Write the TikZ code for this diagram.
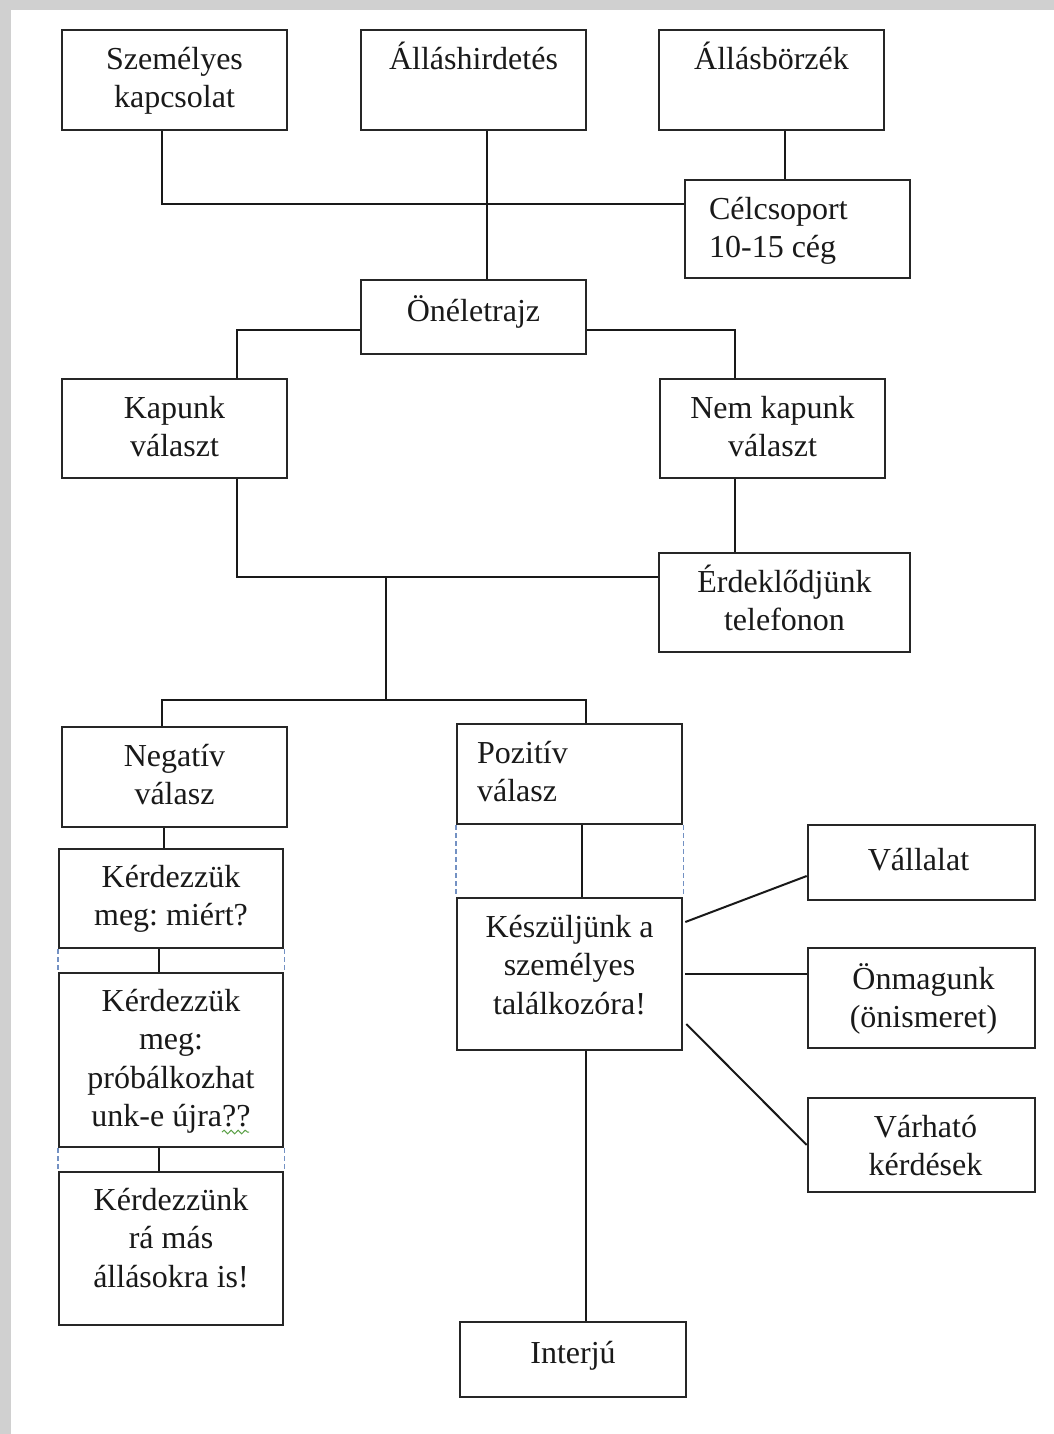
\documentclass[tikz,border=0pt]{standalone}
\usepackage{fontspec}
\setmainfont{Liberation Serif}
\usetikzlibrary{fit,calc,decorations.pathmorphing}
\definecolor{dashblue}{RGB}{115,145,195}
\definecolor{framegray}{RGB}{208,208,208}
\definecolor{squig}{RGB}{90,160,70}
\newcommand\fl{\rule{0pt}{16pt}}
\frenchspacing
\begin{document}
\begin{tikzpicture}[x=0.5pt,y=-0.5pt,
  box/.style={draw=black!85, line width=1.3pt, inner sep=0pt, fill=white},
  txt/.style={inner sep=0pt, align=center, anchor=north, font=\fontsize{16}{19.3}\selectfont, text=black!90},
  ltxt/.style={txt, align=left, anchor=north west},
  conn/.style={draw=black!90, line width=1pt},
  dsh/.style={draw=dashblue, line width=0.8pt, dash pattern=on 2.5pt off 1.5pt}]
\useasboundingbox (0,0) rectangle (1054,1434);
% page background
\fill[framegray] (0,0) rectangle (1054,1434);
\fill[white] (11,10) rectangle (1054,1434);

% boxes
\node[box, fit={(62,30) (287,130)}] (szem) {};
\node[box, fit={(361,30) (586,130)}] (hird) {};
\node[box, fit={(659,30) (884,130)}] (borze) {};
\node[box, fit={(685,180) (910,278)}] (cel) {};
\node[box, fit={(361,280) (586,354)}] (onel) {};
\node[box, fit={(62,379) (287,478)}] (kap) {};
\node[box, fit={(660,379) (885,478)}] (nem) {};
\node[box, fit={(659,553) (910,652)}] (erd) {};
\node[box, fit={(62,727) (287,827)}] (neg) {};
\node[box, fit={(457,724) (682,824)}] (poz) {};
\node[box, fit={(59,849) (283,948)}] (kerda) {};
\node[box, fit={(59,973) (283,1147)}] (kerdb) {};
\node[box, fit={(59,1172) (283,1325)}] (kerdc) {};
\node[box, fit={(457,898) (682,1050)}] (kesz) {};
\node[box, fit={(808,825) (1035,900)}] (vall) {};
\node[box, fit={(808,948) (1035,1048)}] (onm) {};
\node[box, fit={(808,1098) (1035,1192)}] (varh) {};
\node[box, fit={(460,1322) (686,1397)}] (intj) {};

% texts
\node[txt] (tszem) at ([yshift=-4pt]szem.north) {\fl Személyes\\kapcsolat};
\node[txt] (third) at ([yshift=-4pt]hird.north) {\fl Álláshirdetés};
\node[txt] (tborze) at ([yshift=-4pt]borze.north) {\fl Állásbörzék};
\node[ltxt] (tcel) at ([xshift=12.5pt,yshift=-4pt]cel.north west) {\fl Célcsoport\\10-15 cég};
\node[txt] (tonel) at ([yshift=-5pt]onel.north) {\fl Önéletrajz};
\node[txt] (tkap) at ([yshift=-4pt]kap.north) {\fl Kapunk\\választ};
\node[txt] (tnem) at ([yshift=-4pt]nem.north) {\fl Nem kapunk\\választ};
\node[txt] (terd) at ([yshift=-4pt]erd.north) {\fl Érdeklődjünk\\telefonon};
\node[txt] (tneg) at ([yshift=-4pt]neg.north) {\fl Negatív\\válasz};
\node[ltxt] (tpoz) at ([xshift=10.5pt,yshift=-4pt]poz.north west) {\fl Pozitív\\válasz};
\node[txt] (tkerda) at ([yshift=-3.5pt]kerda.north) {\fl Kérdezzük\\meg: miért?};
\node[txt] (tkerdb) at ([yshift=-3.5pt]kerdb.north) {\fl Kérdezzük\\meg:\\próbálkozhat\\unk-e újra??};
\node[txt] (tkerdc) at ([yshift=-3.5pt]kerdc.north) {\fl Kérdezzünk\\rá más\\állásokra is!};
\node[txt] (tkesz) at ([yshift=-4pt]kesz.north) {\fl Készüljünk a\\személyes\\találkozóra!};
\node[txt] (tvall) at ([xshift=-1.5pt,yshift=-7pt]vall.north) {\fl Vállalat};
\node[txt] (tonm) at ([xshift=1pt,yshift=-5pt]onm.north) {\fl Önmagunk\\(önismeret)};
\node[txt] (tvarh) at ([xshift=2pt,yshift=-4pt]varh.north) {\fl Várható\\kérdések};
\node[txt] (tintj) at ([yshift=-5pt]intj.north) {\fl Interjú};

% spell-check squiggle
\draw[squig, line width=0.5pt, decorate, decoration={snake, amplitude=0.9pt, segment length=3.5pt}] (222,1132) -- (249,1132);

% connectors
\draw[conn] ([xshift=-6.25pt]szem.south) |- ([yshift=-12.5pt]cel.north west);
\draw[conn] ([xshift=6.5pt]hird.south) -- ([xshift=6.5pt]hird.south |- onel.north);
\draw[conn] ([xshift=6.75pt]borze.south) -- ([xshift=6.75pt]borze.south |- cel.north);
\draw[conn] ([yshift=-6.5pt]onel.west) -| ([xshift=31.25pt]kap.north);
\draw[conn] ([yshift=-6.5pt]onel.east) -| ([xshift=-18.75pt]nem.north);
\draw[conn] ([xshift=31.25pt]kap.south) |- ([yshift=12.75pt]erd.west);
\draw[conn] ([xshift=-18.75pt]nem.south) -- ([xshift=-18.75pt]nem.south |- erd.north);
\coordinate (j1) at (386,577);
\coordinate (j2) at (386,700);
\draw[conn] (j1) -- (j2);
\draw[conn] ([xshift=-6.25pt]neg.north) |- (j2) -| ([xshift=8.25pt]poz.north);
\draw[conn] ([xshift=-5.5pt]neg.south) -- ([xshift=-5.5pt]neg.south |- kerda.north);
\draw[conn] ([xshift=-6pt]kerda.south) -- ([xshift=-6pt]kerdb.north);
\draw[conn] ([xshift=-6pt]kerdb.south) -- ([xshift=-6pt]kerdc.north);
\draw[conn] ([xshift=6.25pt]poz.south) -- ([xshift=6.25pt]kesz.north);
\draw[conn] ([xshift=1pt,yshift=26pt]kesz.east) -- ([yshift=-6.75pt]vall.west);
\draw[conn] ([xshift=1pt]kesz.east) -- (kesz.east -| onm.west);
\draw[conn] ([xshift=1.5pt,yshift=-25pt]kesz.east) -- (varh.west);
\draw[conn] ([xshift=8.25pt]kesz.south) -- ([xshift=8.25pt]kesz.south |- intj.north);

% dashed guides
\draw[dsh] (kerda.south west) -- (kerdb.north west);
\draw[dsh] (kerda.south east) -- (kerdb.north east);
\draw[dsh] (kerdb.south west) -- (kerdc.north west);
\draw[dsh] (kerdb.south east) -- (kerdc.north east);
\draw[dsh] (poz.south west) -- (kesz.north west);
\draw[dsh] (poz.south east) -- (kesz.north east);
\end{tikzpicture}
\end{document}
